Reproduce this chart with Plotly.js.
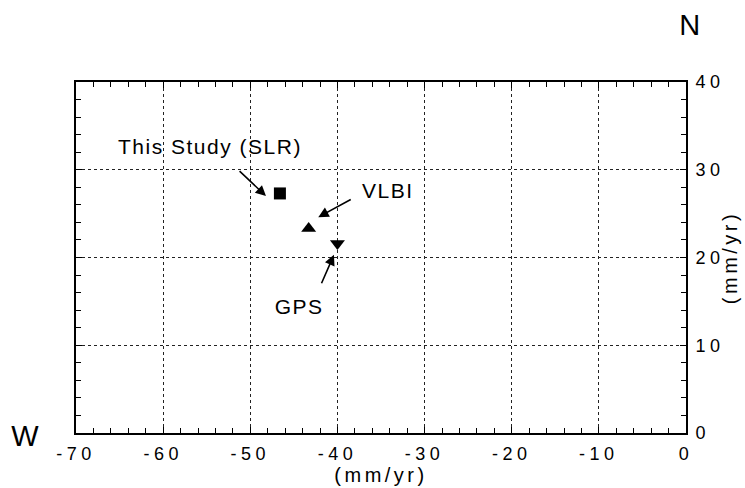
<!DOCTYPE html>
<html>
<head>
<meta charset="utf-8">
<script src="https://cdn.plot.ly/plotly-3.0.1.min.js"></script>
<style>
  html, body { margin: 0; padding: 0; background: #fff; }
  #chart { width: 745px; height: 488px; }
  #chart .xtick text, #chart .ytick text { letter-spacing: 4.5px; }
  #chart .g-xtitle text, #chart .g-ytitle text { letter-spacing: 3.5px; }
  #chart .annotation-text { letter-spacing: 1.5px; }
</style>
</head>
<body>
<div id="chart"></div>
<script>
// Solutions (East, North velocity in mm/yr)
const solutionNames = ["This Study (SLR)", "VLBI", "GPS"];
const eastVel  = [-46.6, -43.3, -40.0];
const northVel = [27.3, 23.3, 21.6];
const markerSymbols = ["square", "triangle-up", "triangle-down"];

const xTickVals = [-70, -60, -50, -40, -30, -20, -10, 0];
const xTickText = ["-70", "-60", "-50", "-40", "-30", "-20", "-10", "0"];
const yTickVals = [0, 10, 20, 30, 40];
const yTickText = ["0", "10", "20", "30", "40"];
const axisTitle = "(mm/yr)";

const F = "Liberation Sans, Arial, Helvetica, sans-serif";

const traces = solutionNames.map((name, i) => ({
  type: "scatter",
  mode: "markers",
  name: name,
  x: [eastVel[i]],
  y: [northVel[i]],
  marker: {
    symbol: markerSymbols[i],
    size: markerSymbols[i] === "square" ? 12 : 13,
    color: "#000",
    line: { width: 0 }
  },
  showlegend: false,
  hoverinfo: "skip"
}));

function axisCommon() {
  return {
    showline: true,
    linecolor: "#000",
    linewidth: 2,
    mirror: "ticks",
    ticks: "inside",
    ticklen: 6,
    tickwidth: 1,
    tickcolor: "#000",
    showgrid: true,
    gridcolor: "#222",
    griddash: "dot",
    gridwidth: 1,
    zeroline: false,
    tickmode: "array",
    tickfont: { family: F, size: 18, color: "#000" },
    minor: { ticks: "inside", ticklen: 5, tickwidth: 1, tickcolor: "#000", dtick: 2, showgrid: false }
  };
}

const xaxis = Object.assign(axisCommon(), {
  range: [-70, 0],
  tickvals: xTickVals,
  ticktext: xTickText,
  ticklabelstandoff: 3,
  title: { text: axisTitle, font: { family: F, size: 20, color: "#000" }, standoff: 2 }
});
const yaxis = Object.assign(axisCommon(), {
  range: [0, 40],
  side: "right",
  tickvals: yTickVals,
  ticktext: yTickText,
  ticklabelstandoff: 4,
  title: { text: axisTitle, font: { family: F, size: 20, color: "#000" }, standoff: 8 }
});

const annFont = { family: F, size: 21, color: "#000" };
const annotations = [
  // labels
  { x: -54.6, y: 32.6, xref: "x", yref: "y", text: solutionNames[0], showarrow: false, font: annFont },
  { x: -34.2, y: 27.6, xref: "x", yref: "y", text: solutionNames[1], showarrow: false, font: annFont },
  { x: -44.4, y: 14.4, xref: "x", yref: "y", text: solutionNames[2], showarrow: false, font: annFont },
  // arrows
  { x: -48.2, y: 27.0, ax: -51.4, ay: 30.0, xref: "x", yref: "y", axref: "x", ayref: "y",
    text: "", showarrow: true, arrowhead: 2, arrowsize: 1.3, arrowwidth: 1.6, arrowcolor: "#000" },
  { x: -42.2, y: 24.6, ax: -38.3, ay: 26.7, xref: "x", yref: "y", axref: "x", ayref: "y",
    text: "", showarrow: true, arrowhead: 2, arrowsize: 1.3, arrowwidth: 1.6, arrowcolor: "#000" },
  { x: -40.4, y: 20.3, ax: -41.9, ay: 16.9, xref: "x", yref: "y", axref: "x", ayref: "y",
    text: "", showarrow: true, arrowhead: 2, arrowsize: 1.3, arrowwidth: 1.6, arrowcolor: "#000" },
  // compass letters (pixel positions converted to paper coords below)
  { x: 26, y: 436, xref: "paper", yref: "paper", xanchor: "center", yanchor: "middle",
    text: "W", showarrow: false, font: { family: F, size: 29, color: "#000" } },
  { x: 691, y: 25, xref: "paper", yref: "paper", xanchor: "center", yanchor: "middle",
    text: "N", showarrow: false, font: { family: F, size: 29, color: "#000" } }
];

const W = 745, H = 488;
const margin = { l: 76, r: 59, t: 82, b: 55, pad: 0 };
const pw = W - margin.l - margin.r, ph = H - margin.t - margin.b;
annotations.forEach(a => {
  if (a.xref === "paper") {
    a.x = (a.x - margin.l) / pw;
    a.y = 1 - (a.y - margin.t) / ph;
  }
});

const layout = {
  width: W, height: H,
  margin: margin,
  paper_bgcolor: "#fff",
  plot_bgcolor: "#fff",
  font: { family: F, color: "#000" },
  xaxis: xaxis,
  yaxis: yaxis,
  annotations: annotations,
  showlegend: false
};

Plotly.newPlot("chart", traces, layout, { displayModeBar: false, staticPlot: true });
</script>
</body>
</html>
